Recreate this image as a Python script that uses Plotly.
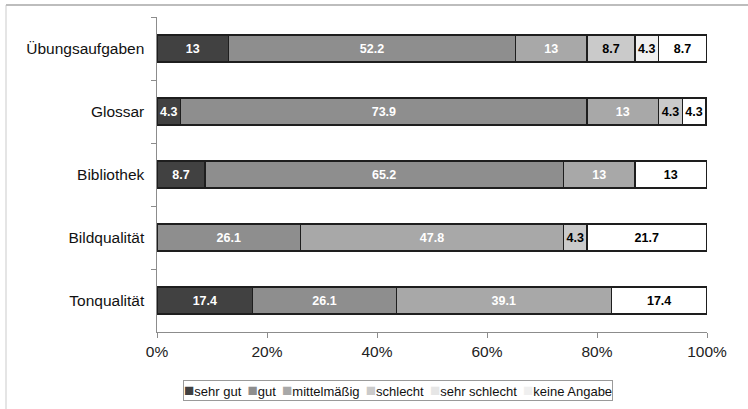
import plotly.graph_objects as go

categories = ["Übungsaufgaben", "Glossar", "Bibliothek", "Bildqualität", "Tonqualität"]
series_names = ["sehr gut", "gut", "mittelmäßig", "schlecht", "sehr schlecht", "keine Angabe"]
sehr_gut = [13, 4.3, 8.7, None, 17.4]
gut = [52.2, 73.9, 65.2, 26.1, 26.1]
mittelmaessig = [13, 13, 13, 47.8, 39.1]
schlecht = [8.7, 4.3, None, 4.3, None]
sehr_schlecht = [4.3, None, None, None, None]
keine_angabe = [8.7, 4.3, 13, 21.7, 17.4]
x_tick_vals = [0, 20, 40, 60, 80, 100]
x_tick_text = ["0%", "20%", "40%", "60%", "80%", "100%"]

series_values = [sehr_gut, gut, mittelmaessig, schlecht, sehr_schlecht, keine_angabe]
colors = ["#414141", "#8e8e8e", "#a8a8a8", "#cacaca", "#f0f0f0", "#ffffff"]
text_colors = ["white", "white", "white", "black", "black", "black"]

fig = go.Figure()
for name, vals, col, tcol in zip(series_names, series_values, colors, text_colors):
    fig.add_trace(go.Bar(
        name=name, y=categories, x=vals, orientation="h",
        marker=dict(color=col, line=dict(color="#1e1e1e", width=1.5)),
        text=[("" if v is None else f"{v:g}") for v in vals],
        textposition="inside", insidetextanchor="middle",
        constraintext="none", textangle=0,
        insidetextfont=dict(family="Liberation Sans", size=12.5, color=tcol),
        texttemplate="<b>%{text}</b>",
        hoverinfo="skip", showlegend=False,
    ))

# legend line built from the series names / colours
legend_parts = []
for name, col in zip(series_names, colors):
    if col.lower() in ("#ffffff", "#f0f0f0"):
        sym_col = "#e6e6e6" if col.lower() == "#f0f0f0" else "#efefef"
        sym = f"<span style='color:{sym_col};font-size:17px'>■</span>"
    else:
        sym = f"<span style='color:{col};font-size:17px'>■</span>"
    legend_parts.append(f"{sym}{name}")
legend_text = "\u2009 ".join(legend_parts)

fig.add_annotation(
    xref="paper", yref="paper", x=(397.5 - 157) / 550, y=(332 - 390.5) / 315,
    xanchor="center", yanchor="middle", showarrow=False,
    text=legend_text,
    font=dict(family="Liberation Sans", size=13, color="#111111"),
    bordercolor="#9a9a9a", borderwidth=1, borderpad=0, bgcolor="white",
)

fig.update_layout(
    barmode="stack",
    bargap=0.57,
    width=748, height=409,
    margin=dict(l=157, r=41, t=17, b=77),
    paper_bgcolor="white", plot_bgcolor="white",
    font=dict(family="Liberation Sans", color="#111111", size=13),
    showlegend=False,
)
fig.update_xaxes(
    range=[0, 100], tickvals=x_tick_vals, ticktext=x_tick_text,
    showgrid=False, zeroline=False, showline=True, linecolor="#8c8c8c", linewidth=1,
    ticks="outside", ticklen=5, tickcolor="#8c8c8c",
    tickfont=dict(family="Liberation Sans", size=15.5, color="#222222"),
    fixedrange=True,
)
fig.update_yaxes(
    autorange="reversed", showgrid=False, showline=True, linecolor="#8c8c8c", linewidth=1,
    ticks="outside", ticklen=5, tickcolor="#8c8c8c", tickson="boundaries",
    tickfont=dict(family="Liberation Sans", size=15.5, color="#111111"),
    ticksuffix="  ", fixedrange=True,
)
# outer frame lines (left and top)
fig.add_shape(type="line", xref="paper", yref="paper",
              x0=(6 - 157) / 550, x1=(6 - 157) / 550, y0=(332 - 409) / 315, y1=(332 - 5) / 315,
              line=dict(color="#dcdcdc", width=1.5))
fig.add_shape(type="line", xref="paper", yref="paper",
              x0=(6 - 157) / 550, x1=(748 - 157) / 550, y0=(332 - 5) / 315, y1=(332 - 5) / 315,
              line=dict(color="#bdbdbd", width=2))

fig.write_html("out.html", config={"displayModeBar": False},
               post_script="document.body.style.margin='0px';")
